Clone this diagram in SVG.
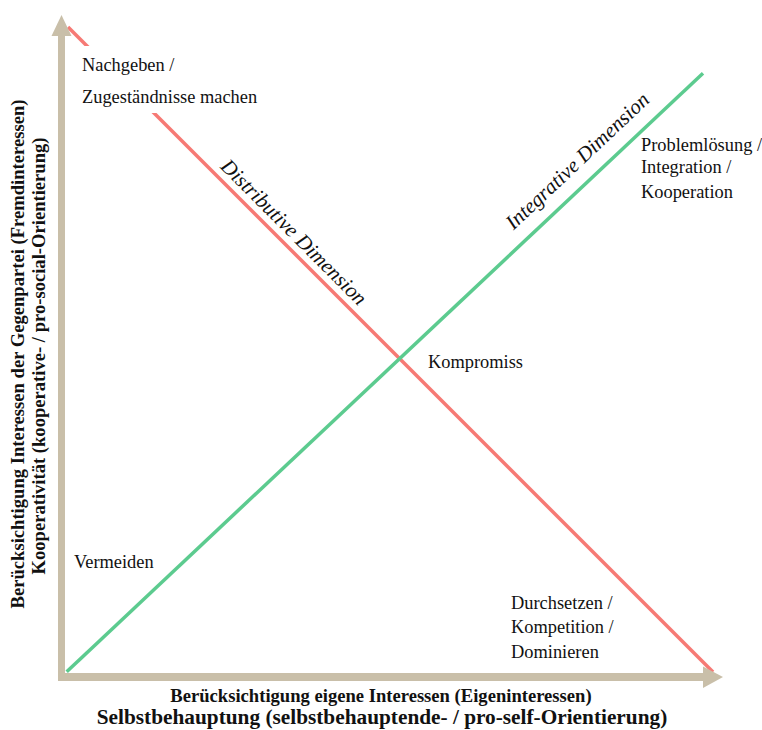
<svg xmlns="http://www.w3.org/2000/svg" width="762" height="730" viewBox="0 0 762 730">
<style>
.axis{fill:#c9bfa9}
.lbl{font-family:"Liberation Serif","Times New Roman",serif;font-size:18.4px;fill:#111}
.dim{font-family:"Liberation Serif","Times New Roman",serif;font-size:21px;font-style:italic;fill:#111}
.ax1{font-family:"Liberation Serif","Times New Roman",serif;font-size:18.6px;font-weight:bold;fill:#111}
.ax2{font-family:"Liberation Serif","Times New Roman",serif;font-size:21.3px;font-weight:bold;fill:#111}
</style>
<rect width="762" height="730" fill="#fff"/>
<g id="connectors">
<line x1="68" y1="27" x2="713" y2="672" stroke="#f67a75" stroke-width="3.5"/>
<line x1="66.7" y1="671.7" x2="703" y2="73.3" stroke="#5ccb8f" stroke-width="3.5"/>
</g>
<g id="y-axis">
<rect class="axis" x="58" y="34" width="7" height="647"/>
<polygon class="axis" points="61.5,15 51.5,36 71.5,36"/>
<text class="ax1" transform="translate(23.5,354) rotate(-90)" text-anchor="middle">Berücksichtigung Interessen der Gegenpartei (Fremdinteressen)</text>
<text class="ax1" transform="translate(45,356) rotate(-90)" text-anchor="middle">Kooperativität (kooperative- / pro-social-Orientierung)</text>
</g>
<g id="x-axis">
<rect class="axis" x="58" y="673" width="647" height="8"/>
<polygon class="axis" points="723,677 703,666.5 703,688"/>
<text class="ax1" x="381" y="702" text-anchor="middle">Berücksichtigung eigene Interessen (Eigeninteressen)</text>
<text class="ax2" x="382" y="724" text-anchor="middle">Selbstbehauptung (selbstbehauptende- / pro-self-Orientierung)</text>
</g>
<g id="nachgeben">
<rect x="78" y="46" width="182" height="67" fill="#fff"/>
<text class="lbl" x="82" y="71">Nachgeben /</text>
<text class="lbl" x="82" y="103">Zugeständnisse machen</text>
</g>
<g id="problemloesung">
<text class="lbl" x="641" y="151">Problemlösung /</text>
<text class="lbl" x="641" y="173">Integration /</text>
<text class="lbl" x="641" y="198">Kooperation</text>
</g>
<g id="kompromiss">
<text class="lbl" x="428" y="368">Kompromiss</text>
</g>
<g id="vermeiden">
<text class="lbl" x="74" y="568">Vermeiden</text>
</g>
<g id="durchsetzen">
<text class="lbl" x="511" y="609">Durchsetzen /</text>
<text class="lbl" x="511" y="633">Kompetition /</text>
<text class="lbl" x="511" y="658">Dominieren</text>
</g>
<g id="distributive">
<text class="dim" transform="translate(289,237) rotate(45)" text-anchor="middle">Distributive Dimension</text>
</g>
<g id="integrative">
<text class="dim" transform="translate(582,166) rotate(-43.3)" text-anchor="middle">Integrative Dimension</text>
</g>
</svg>
